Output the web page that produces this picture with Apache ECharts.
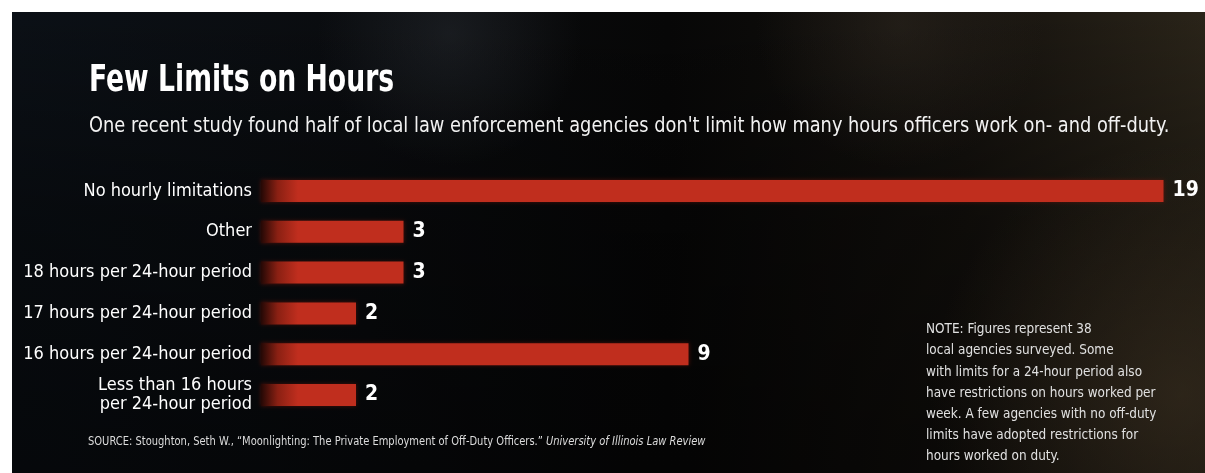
<!DOCTYPE html>
<html>
<head>
<meta charset="utf-8">
<title>Few Limits on Hours</title>
<script src="https://cdn.jsdelivr.net/npm/echarts@6/dist/echarts.min.js"></script>
<style>
  html, body { margin: 0; padding: 0; background: #fff; }
  #chart { width: 1205px; height: 473px; }
</style>
</head>
<body>
<div id="chart"></div>
<script>
// limit types, top to bottom
var categories = [
  'No hourly limitations',
  'Other',
  '18 hours per 24-hour period',
  '17 hours per 24-hour period',
  '16 hours per 24-hour period',
  'Less than 16 hours\nper 24-hour period'
];
// number of agencies
var agencies = [19, 3, 3, 2, 9, 2];

var titleText = 'Few Limits on Hours';
var subText = 'One recent study found half of local law enforcement agencies don\'t limit how many hours officers work on- and off-duty.';
var noteLines = [
  'NOTE: Figures represent 38',
  'local agencies surveyed. Some',
  'with limits for a 24-hour period also',
  'have restrictions on hours worked per',
  'week. A few agencies with no off-duty',
  'limits have adopted restrictions for',
  'hours worked on duty.'
];
var sourceText = 'SOURCE: Stoughton, Seth W., \u201cMoonlighting: The Private Employment of Off-Duty Officers.\u201d ';
var sourceItalic = 'University of Illinois Law Review';

var FONT = '"Liberation Sans Narrow", "DejaVu Sans Condensed", sans-serif';

var chart = echarts.init(document.getElementById('chart'));

// bar fill: dark fade at the left end, then flat red (absolute px coords)
var barFill = new echarts.graphic.LinearGradient(261, 0, 298, 0, [
  { offset: 0, color: '#240805' },
  { offset: 0.45, color: '#8a2013' },
  { offset: 1, color: '#c02e1e' }
], true);

var option = {
  backgroundColor: '#ffffff',
  graphic: [
    // dark panel
    {
      type: 'rect', z: -10, silent: true,
      shape: { x: 12, y: 12, width: 1193, height: 461 },
      style: {
        fill: new echarts.graphic.LinearGradient(0, 0, 1, 0, [
          { offset: 0, color: '#0b1016' },
          { offset: 0.3, color: '#0a0c0f' },
          { offset: 0.55, color: '#070707' },
          { offset: 0.8, color: '#15120e' },
          { offset: 1, color: '#2a2419' }
        ])
      }
    },
    // darker lower-left
    {
      type: 'rect', z: -9, silent: true,
      shape: { x: 12, y: 12, width: 1193, height: 461 },
      style: {
        fill: new echarts.graphic.LinearGradient(0, 0, 0, 1, [
          { offset: 0, color: 'rgba(0,0,0,0)' },
          { offset: 0.45, color: 'rgba(0,0,0,0.35)' },
          { offset: 1, color: 'rgba(0,0,0,0.5)' }
        ])
      }
    },
    // soft lighter haze at the top
    {
      type: 'rect', z: -8, silent: true,
      shape: { x: 150, y: 12, width: 600, height: 220 },
      style: {
        fill: new echarts.graphic.RadialGradient(0.5, 0.1, 0.6, [
          { offset: 0, color: 'rgba(60,66,74,0.3)' },
          { offset: 1, color: 'rgba(60,66,74,0)' }
        ])
      }
    },
    {
      type: 'rect', z: -8, silent: true,
      shape: { x: 650, y: 12, width: 500, height: 240 },
      style: {
        fill: new echarts.graphic.RadialGradient(0.5, 0.05, 0.6, [
          { offset: 0, color: 'rgba(70,60,48,0.3)' },
          { offset: 1, color: 'rgba(70,60,48,0)' }
        ])
      }
    },
    // warm glow bottom right
    {
      type: 'rect', z: -8, silent: true,
      shape: { x: 760, y: 120, width: 700, height: 500 },
      style: {
        fill: new echarts.graphic.RadialGradient(0.6, 0.55, 0.5, [
          { offset: 0, color: 'rgba(72,58,40,0.45)' },
          { offset: 1, color: 'rgba(72,58,40,0)' }
        ])
      }
    },
    {
      type: 'text', x: 89, y: 62, scaleX: 0.78,
      style: { text: titleText, fill: '#ffffff', font: 'bold 38px ' + FONT }
    },
    {
      type: 'text', x: 89, y: 115, scaleX: 0.92,
      style: { text: subText, fill: '#f2f2f2', font: '21.5px ' + FONT }
    },
    {
      type: 'text', x: 926, y: 319, scaleX: 0.96,
      style: {
        text: noteLines.join('\n'), fill: '#e0e0e0',
        font: '14px ' + FONT, lineHeight: 21.2
      }
    },
    {
      type: 'text', x: 88, y: 436, scaleX: 0.92,
      style: {
        text: '{a|' + sourceText + '}{b|' + sourceItalic + '}',
        fill: '#dcdcdc',
        rich: {
          a: { fontFamily: FONT, fontSize: 12, color: '#dcdcdc' },
          b: { fontFamily: FONT, fontSize: 12, fontStyle: 'italic', color: '#dcdcdc' }
        }
      }
    }
  ],
  grid: {
    left: 261,
    right: 41.5,
    top: 170.6,
    bottom: 57.6
  },
  xAxis: {
    type: 'value',
    min: 0,
    max: 19,
    show: false
  },
  yAxis: {
    type: 'category',
    data: categories,
    inverse: true,
    axisLine: { show: false },
    axisTick: { show: false },
    splitLine: { show: false },
    axisLabel: {
      margin: 9,
      color: '#ffffff',
      fontFamily: FONT,
      fontSize: 18,
      lineHeight: 19,
      align: 'right'
    }
  },
  series: [
    {
      type: 'bar',
      data: agencies,
      barWidth: 22,
      itemStyle: {
        color: barFill,
        shadowColor: 'rgba(120,20,10,0.6)',
        shadowBlur: 4
      },
      label: {
        show: true,
        position: 'right',
        distance: 9,
        color: '#ffffff',
        fontFamily: FONT,
        fontSize: 21,
        fontWeight: 'bold'
      },
      silent: true
    }
  ]
};

chart.setOption(option);
</script>
</body>
</html>
